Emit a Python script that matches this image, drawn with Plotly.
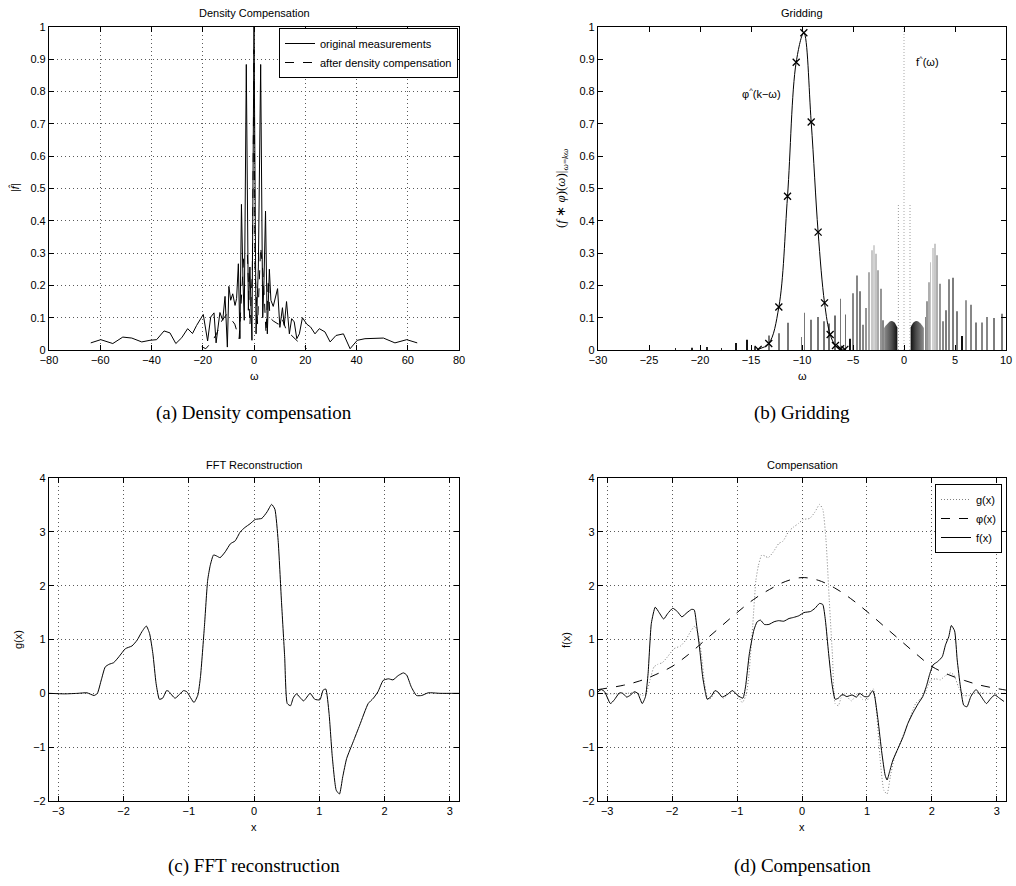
import plotly.graph_objects as go

W, H = 1016, 886
SANS = "Liberation Sans, Arial, Helvetica, sans-serif"
SERIF = "Liberation Serif, Times New Roman, serif"

# ---------------- (a) Density compensation ----------------
orig_w = [-63.7, -59.8, -55.1, -51.2, -47.7, -43.8, -40.6, -38.0, -35.1, -32.8,
          -30.5, -28.2, -25.9, -24.0, -22.4, -19.8, -18.1, -16.9, -15.6, -14.8,
          -13.3, -12.2, -11.3, -10.4, -9.8, -9.1, -8.3, -7.4, -6.8, -6.1,
          -5.5, -4.9, -4.3, -3.8, -3.0, -2.2, -1.6, -0.8, 0.0, 0.8,
          1.7, 2.6, 3.4, 3.9, 4.5, 5.2, 6.0, 6.6, 7.5, 8.3,
          9.2, 10.1, 11.1, 11.8, 12.7, 13.8, 14.7, 15.7, 16.7, 17.7,
          18.9, 20.6, 22.1, 23.8, 25.5, 27.7, 29.7, 32.0, 34.9, 37.5,
          40.3, 43.3, 46.6, 50.5, 55.0, 59.6, 63.7]
orig_mag = [0.022, 0.032, 0.020, 0.040, 0.037, 0.025, 0.030, 0.032, 0.059, 0.053,
            0.020, 0.038, 0.066, 0.051, 0.076, 0.110, 0.028, 0.102, 0.115, 0.022,
            0.116, 0.092, 0.166, 0.009, 0.197, 0.154, 0.174, 0.138, 0.159, 0.267,
            0.035, 0.451, 0.216, 0.092, 0.884, 0.123, 0.257, 0.030, 1.000, 0.050,
            0.257, 0.884, 0.100, 0.216, 0.430, 0.050, 0.250, 0.154, 0.135, 0.164,
            0.190, 0.070, 0.131, 0.076, 0.150, 0.050, 0.097, 0.087, 0.035, 0.050,
            0.100, 0.080, 0.071, 0.050, 0.066, 0.056, 0.025, 0.045, 0.050, 0.004,
            0.030, 0.035, 0.035, 0.037, 0.022, 0.032, 0.022]
comp_w = [-20.4, -18.8, -16.5, -14.6, -12.6, -10.7, -9.4, -7.5, -5.8, -4.0,
          -2.6, -1.6, -0.65, 0.0, 0.4, 1.4, 2.6, 3.6, 4.7, 5.6,
          6.2, 7.5, 9.5, 10.8, 12.7, 15.3, 17.3, 19.2, 20.5]
comp_mag = [0.010, 0.004, 0.025, 0.050, 0.090, 0.110, 0.100, 0.080, 0.035, 0.290,
            0.300, 0.076, 0.240, 0.930, 0.250, 0.080, 0.320, 0.230, 0.050, 0.220,
            0.100, 0.090, 0.080, 0.100, 0.060, 0.040, 0.025, 0.015, 0.004]

# ---------------- (b) Gridding ----------------
kernel_w = [-14.3, -13.26, -12.27, -11.42, -10.57, -9.82, -9.1, -8.42, -7.79,
            -7.24, -6.72, -6.22, -5.8]
kernel_val = [0.002, 0.020, 0.133, 0.476, 0.891, 0.982, 0.706, 0.365, 0.146,
              0.048, 0.014, 0.004, 0.002]
sample_w = [-22.4, -20.8, -19.3, -17.9, -16.5, -15.4, -14.6, -13.25, -12.27, -11.38,
            -10.04, -9.75, -9.1, -8.44, -7.85, -7.36, -6.77, -6.22, -5.73, -5.33,
            -4.97, -4.58, -4.32, -3.99, -3.76, -3.44, -3.17, -2.95, -2.72, -2.52,
            -2.29, -2.06,
            2.12, 2.29, 2.45, 2.61, 2.84, 3.04, 3.27, 3.53, 3.86, 4.15,
            4.41, 4.84, 5.07, 5.23, 5.66, 6.05, 6.54, 7.03, 7.62, 8.17,
            8.83, 9.58]
sample_val = [0.004, 0.007, 0.009, 0.005, 0.022, 0.032, 0.010, 0.045, 0.052, 0.084,
              0.040, 0.115, 0.094, 0.102, 0.089, 0.082, 0.107, 0.159, 0.110, 0.035,
              0.176, 0.231, 0.182, 0.078, 0.130, 0.241, 0.309, 0.324, 0.298, 0.247,
              0.190, 0.092,
              0.102, 0.151, 0.210, 0.272, 0.316, 0.329, 0.293, 0.205, 0.089, 0.123,
              0.219, 0.224, 0.012, 0.120, 0.043, 0.154, 0.140, 0.085, 0.085, 0.102,
              0.099, 0.112]
sample_gray = [40, 40, 40, 40, 20, 20, 70, 120, 120, 120,
               120, 120, 120, 120, 120, 110, 110, 120, 110, 15,
               135, 135, 125, 135, 150, 170, 200, 210, 195, 170,
               150, 135,
               135, 150, 175, 195, 210, 200, 175, 150, 135, 125,
               135, 125, 15, 125, 15, 150, 135, 125, 135, 135,
               125, 125]
dense_left_w = [-1.95, -1.95, -1.8, -1.6, -1.4, -1.25, -1.1, -0.9, -0.75, -0.65, -0.65]
dense_left_val = [0.0, 0.068, 0.075, 0.083, 0.088, 0.090, 0.089, 0.084, 0.077, 0.070, 0.0]
dense_right_w = [0.65, 0.65, 0.75, 0.9, 1.1, 1.25, 1.4, 1.6, 1.8, 1.95, 1.95]
dense_right_val = [0.0, 0.070, 0.077, 0.084, 0.089, 0.090, 0.088, 0.083, 0.075, 0.068, 0.0]
near_w = [-0.55, 0.59]
near_val = [0.453, 0.453]
origin_w = 0.0

# ---------------- (c)/(d) reconstruction ----------------
x_g = [-3.14, -2.9, -2.7, -2.56, -2.45, -2.40, -2.34, -2.28, -2.22, -2.15,
       -2.07, -1.97, -1.87, -1.79, -1.72, -1.65, -1.60, -1.55, -1.50, -1.45,
       -1.40, -1.34, -1.31, -1.21, -1.08, -1.03, -0.92, -0.86, -0.82, -0.76,
       -0.71, -0.67, -0.62, -0.57, -0.52, -0.44, -0.36, -0.29, -0.21, -0.14,
       -0.06, 0.02, 0.12, 0.20, 0.27, 0.32, 0.37, 0.42, 0.47, 0.51,
       0.56, 0.60, 0.65, 0.76, 0.86, 0.93, 1.01, 1.06, 1.10, 1.15,
       1.20, 1.26, 1.31, 1.36, 1.42, 1.52, 1.62, 1.75, 1.83, 1.90,
       1.98, 2.06, 2.13, 2.21, 2.29, 2.34, 2.41, 2.49, 2.57, 2.67,
       2.85, 3.14]
g_vals = [0.0, -0.01, 0.0, 0.01, -0.04, 0.0, 0.25, 0.49, 0.54, 0.57,
          0.68, 0.83, 0.88, 0.99, 1.14, 1.25, 1.11, 0.74, 0.18, -0.11,
          -0.09, 0.05, 0.04, -0.09, 0.05, 0.03, -0.17, -0.03, 0.31, 1.24,
          2.10, 2.38, 2.57, 2.55, 2.52, 2.63, 2.78, 2.83, 3.00, 3.08,
          3.15, 3.23, 3.25, 3.37, 3.51, 3.42, 2.84, 1.73, 0.68, -0.19,
          -0.23, -0.09, -0.01, -0.14, 0.0, -0.11, -0.12, 0.06, 0.08, -0.37,
          -1.18, -1.80, -1.87, -1.55, -1.21, -0.90, -0.59, -0.19, -0.09, 0.03,
          0.24, 0.27, 0.25, 0.33, 0.38, 0.34, 0.12, -0.04, -0.04, 0.01,
          0.0, 0.0]
x_phi = [-3.14, -2.75, -2.5, -2.25, -2.0, -1.75, -1.5, -1.25, -1.0, -0.75, -0.5, -0.25,
         0.0, 0.25, 0.5, 0.75, 1.0, 1.25, 1.5, 1.75, 2.0, 2.25, 2.5, 2.75, 3.14]
phi_vals = [0.07, 0.15, 0.23, 0.35, 0.50, 0.72, 0.98, 1.24, 1.50, 1.74, 1.93, 2.08,
            2.15, 2.10, 1.96, 1.76, 1.52, 1.26, 1.00, 0.74, 0.50, 0.35, 0.24, 0.15, 0.06]
x_f = [-3.14, -3.09, -3.04, -2.95, -2.89, -2.81, -2.76, -2.70, -2.65, -2.58,
       -2.53, -2.46, -2.41, -2.37, -2.32, -2.26, -2.20, -2.13, -2.07, -1.99,
       -1.92, -1.85, -1.77, -1.70, -1.66, -1.62, -1.58, -1.53, -1.49, -1.46,
       -1.40, -1.34, -1.29, -1.23, -1.15, -1.07, -0.99, -0.91, -0.87, -0.81,
       -0.74, -0.69, -0.64, -0.58, -0.51, -0.43, -0.36, -0.28, -0.20, -0.13,
       -0.05, 0.03, 0.13, 0.20, 0.27, 0.32, 0.36, 0.41, 0.46, 0.51,
       0.56, 0.62, 0.69, 0.77, 0.84, 0.89, 0.96, 1.02, 1.09, 1.12,
       1.17, 1.23, 1.28, 1.31, 1.35, 1.40, 1.48, 1.56, 1.63, 1.71,
       1.79, 1.86, 1.92, 1.97, 2.02, 2.09, 2.16, 2.21, 2.26, 2.30,
       2.35, 2.39, 2.44, 2.49, 2.54, 2.60, 2.68, 2.76, 2.84, 2.91,
       2.97, 3.04, 3.11]
f_vals = [0.03, 0.07, 0.03, -0.19, -0.12, 0.01, 0.0, -0.07, -0.04, 0.03,
          0.0, -0.19, -0.06, 0.37, 1.30, 1.60, 1.50, 1.38, 1.48, 1.58,
          1.52, 1.42, 1.50, 1.56, 1.55, 1.24, 0.87, 0.31, 0.03, -0.11,
          -0.06, 0.05, 0.02, -0.07, -0.02, 0.05, -0.04, -0.09, 0.12, 0.74,
          1.18, 1.33, 1.36, 1.28, 1.28, 1.33, 1.35, 1.34, 1.39, 1.41,
          1.44, 1.50, 1.52, 1.58, 1.67, 1.65, 1.36, 0.74, 0.19, -0.11,
          -0.09, -0.02, -0.06, -0.03, -0.07, 0.0, -0.06, -0.06, 0.05, -0.06,
          -0.49, -1.11, -1.52, -1.61, -1.45, -1.24, -1.02, -0.80, -0.56, -0.36,
          -0.19, -0.06, 0.15, 0.37, 0.53, 0.59, 0.68, 0.90, 1.05, 1.26,
          1.16, 0.62, 0.12, -0.22, -0.25, -0.06, 0.07, -0.06, -0.19, -0.09,
          -0.03, -0.09, -0.15]

PI = 3.14159265


def dom_x(left, right):
    return [left / W, right / W]


def dom_y(top, bottom):
    return [1 - bottom / H, 1 - top / H]


def axis(domain, anchor, grid, rng, dtick, tick0=0):
    return dict(domain=domain, anchor=anchor, range=rng, dtick=dtick, tick0=tick0,
                automargin=False,
                showline=True, linecolor="black", linewidth=1.2, mirror="ticks",
                ticks="inside", ticklen=5, tickwidth=1, tickcolor="black",
                showgrid=grid, gridcolor="#5a5a5a", griddash="1px,3px", gridwidth=1,
                zeroline=False, tickfont=dict(family=SANS, size=11, color="black"))


fig = go.Figure()
K = dict(color="black", width=1)

# (a)
fig.add_trace(go.Scatter(x=orig_w, y=orig_mag, mode="lines", line=K,
                         name="original measurements", legend="legend",
                         xaxis="x", yaxis="y"))
fig.add_trace(go.Scatter(x=comp_w, y=comp_mag, mode="lines",
                         line=dict(color="black", width=1, dash="dash"),
                         name="after density compensation", legend="legend",
                         xaxis="x", yaxis="y"))

# (b)
fig.add_trace(go.Bar(x=sample_w, y=sample_val, width=0.075,
                     marker=dict(color=[f"rgb({v},{v},{v})" for v in sample_gray],
                                 line=dict(width=0)),
                     showlegend=False, xaxis="x2", yaxis="y2"))
fig.add_trace(go.Scatter(x=dense_left_w, y=dense_left_val, mode="lines", fill="toself",
                         line=dict(width=0, color="rgba(0,0,0,0)"),
                         fillgradient=dict(type="horizontal",
                                           colorscale=[[0, "#8c8c8c"], [0.6, "#4a4a4a"], [1, "#101010"]]),
                         showlegend=False, xaxis="x2", yaxis="y2"))
fig.add_trace(go.Scatter(x=dense_right_w, y=dense_right_val, mode="lines", fill="toself",
                         line=dict(width=0, color="rgba(0,0,0,0)"),
                         fillgradient=dict(type="horizontal",
                                           colorscale=[[0, "#101010"], [0.4, "#4a4a4a"], [1, "#8c8c8c"]]),
                         showlegend=False, xaxis="x2", yaxis="y2"))
for w, v in zip(near_w, near_val):
    fig.add_trace(go.Scatter(x=[w, w], y=[0, v], mode="lines",
                             line=dict(color="#9a9a9a", width=1, dash="1px,2px"),
                             showlegend=False, xaxis="x2", yaxis="y2"))
fig.add_trace(go.Scatter(x=[origin_w, origin_w], y=[0, 1], mode="lines",
                         line=dict(color="#a8a8a8", width=1, dash="1px,2px"),
                         showlegend=False, xaxis="x2", yaxis="y2"))
fig.add_trace(go.Scatter(x=kernel_w, y=kernel_val, mode="lines+markers",
                         line=dict(color="black", width=1, shape="spline", smoothing=1.0),
                         marker=dict(symbol="x-thin", size=7,
                                     line=dict(width=1.3, color="black")),
                         showlegend=False, xaxis="x2", yaxis="y2"))

# (c)
fig.add_trace(go.Scatter(x=x_g, y=g_vals, mode="lines",
                         line=dict(color="black", width=1, shape="spline", smoothing=0.5),
                         showlegend=False, xaxis="x3", yaxis="y3"))

# (d)
fig.add_trace(go.Scatter(x=x_g, y=g_vals, mode="lines", name="g(x)", legend="legend2",
                         line=dict(color="#808080", width=1, dash="1px,2px",
                                   shape="spline", smoothing=0.5),
                         xaxis="x4", yaxis="y4"))
fig.add_trace(go.Scatter(x=x_phi, y=phi_vals, mode="lines", name="\u03c6(x)", legend="legend2",
                         line=dict(color="black", width=1, dash="dash", shape="spline", smoothing=1.0),
                         xaxis="x4", yaxis="y4"))
fig.add_trace(go.Scatter(x=x_f, y=f_vals, mode="lines", name="f(x)", legend="legend2",
                         line=dict(color="black", width=1, shape="spline", smoothing=0.5),
                         xaxis="x4", yaxis="y4"))

top_row = dom_y(27, 350)
bot_row = dom_y(478, 801)
left_col = dom_x(49, 459)
right_col = dom_x(598, 1006)

legend_font = dict(family=SANS, size=11, color="black")

fig.update_layout(
    template="none",
    width=W, height=H, margin=dict(l=0, r=0, t=0, b=0, pad=0, autoexpand=False),
    paper_bgcolor="white", plot_bgcolor="white",
    barmode="overlay",
    xaxis=axis(left_col, "y", True, [-80, 80], 20),
    yaxis=axis(top_row, "x", True, [0, 1], 0.1),
    xaxis2=axis(right_col, "y2", False, [-30, 10], 5),
    yaxis2=axis(top_row, "x2", False, [0, 1], 0.1),
    xaxis3=axis(left_col, "y3", True, [-PI, PI], 1),
    yaxis3=axis(bot_row, "x3", True, [-2, 4], 1),
    xaxis4=axis(right_col, "y4", True, [-PI, PI], 1),
    yaxis4=axis(bot_row, "x4", True, [-2, 4], 1),
    legend=dict(x=458 / W, y=1 - 28 / H, xanchor="right", yanchor="top",
                bordercolor="black", borderwidth=1, bgcolor="white",
                font=legend_font, tracegroupgap=0, itemwidth=30),
    legend2=dict(x=1002 / W, y=1 - 484 / H, xanchor="right", yanchor="top",
                 bordercolor="black", borderwidth=1, bgcolor="white",
                 font=legend_font, tracegroupgap=0, itemwidth=30),
)


def note(text, x, y, size=11, family=SANS, angle=0, xref="paper", yref="paper", px=True):
    if px:
        x, y = x / W, 1 - y / H
    fig.add_annotation(text=text, x=x, y=y, xref=xref, yref=yref, showarrow=False,
                       textangle=angle, xanchor="center", yanchor="middle",
                       font=dict(family=family, size=size, color="black"))


# titles
note("Density Compensation", 254, 13)
note("Gridding", 802, 13)
note("FFT Reconstruction", 254, 465)
note("Compensation", 802, 465)
# axis labels
note("\u03c9", 254, 376)
note("\u03c9", 802, 376)
note("x", 254, 827)
note("x", 802, 827)
note("|<i>f\u0302</i>|", 15, 188, angle=-90)
note("(<i>f</i> \u2217 <i>\u03c6</i>)(<i>\u03c9</i>)|<sub><i>\u03c9</i>=<i>k\u03c9</i></sub>",
     562, 188, size=13, family=SERIF, angle=-90)
note("g(x)", 18, 640, angle=-90)
note("f(x)", 566, 640, angle=-90)
# in-plot labels of (b)
note("\u03c6<sup>^</sup>(k\u2212\u03c9)", -14.0, 0.795, xref="x2", yref="y2", px=False)
note("f<sup>^</sup>(\u03c9)", 2.3, 0.895, xref="x2", yref="y2", px=False)
# captions
note("(a) Density compensation", 254, 413, size=19, family=SERIF)
note("(b) Gridding", 802, 413, size=19, family=SERIF)
note("(c) FFT reconstruction", 254, 866, size=19, family=SERIF)
note("(d) Compensation", 802, 866, size=19, family=SERIF)

fig.write_html("out.html")
